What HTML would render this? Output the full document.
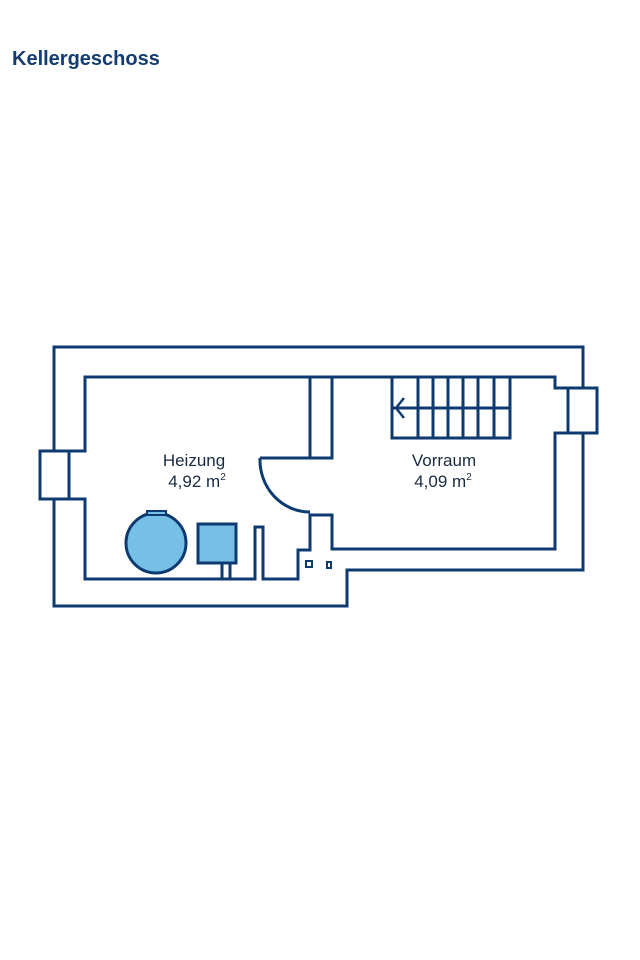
<!DOCTYPE html>
<html><head><style>
body{margin:0;background:#fff;width:640px;height:960px;overflow:hidden;position:relative;font-family:"Liberation Sans",sans-serif}
h1{position:absolute;left:12px;top:48px;margin:0;font-size:20px;font-weight:bold;color:#133d72}
</style></head><body>
<h1>Kellergeschoss</h1>
<svg width="640" height="960" style="position:absolute;left:0;top:0" fill="none" stroke="#0d3a70" stroke-width="3" stroke-linejoin="miter">
<path d="M54,451 V347 H583 V388 M583,433 V570 H347 V606 H54 V499"/>
<rect x="40" y="451" width="29" height="48"/>
<rect x="568" y="388" width="29" height="45"/>
<path d="M69,451 H85 V377 H555 V388 H568 M568,433 H555 V549 H332 V515 H310 V550 H298 V579 H263 V527 H255 V579 H85 V499 H69"/>
<path d="M310,377 V458 H332 V377"/>
<path d="M260,458 H310 M260,458 A50,52 0 0 0 310,512"/>
<rect x="392" y="377" width="118" height="61"/>
<path d="M418,377V438M433,377V438M448,377V438M463,377V438M478,377V438M494,377V438M392,408H510"/>
<path d="M404,398 L396,408 L404,418" stroke-width="2.5"/>
<circle cx="156" cy="543" r="30" fill="#76c0e8"/>
<rect x="147" y="511" width="19" height="4" fill="#76c0e8" stroke-width="2"/>
<rect x="198" y="524" width="38" height="39" fill="#76c0e8"/>
<path d="M222,563 V579 M230,563 V579"/>
<rect x="306" y="561" width="6" height="6" stroke-width="2"/>
<rect x="327" y="562" width="4" height="6" stroke-width="2"/>
<g fill="#1a2a40" stroke="none" font-family="Liberation Sans, sans-serif" font-size="17" text-anchor="middle">
<text x="194" y="466">Heizung</text>
<text x="197" y="487">4,92 m<tspan font-size="10" dy="-7">2</tspan></text>
<text x="444" y="466">Vorraum</text>
<text x="443" y="487">4,09 m<tspan font-size="10" dy="-7">2</tspan></text>
</g>
</svg>
</body></html>
